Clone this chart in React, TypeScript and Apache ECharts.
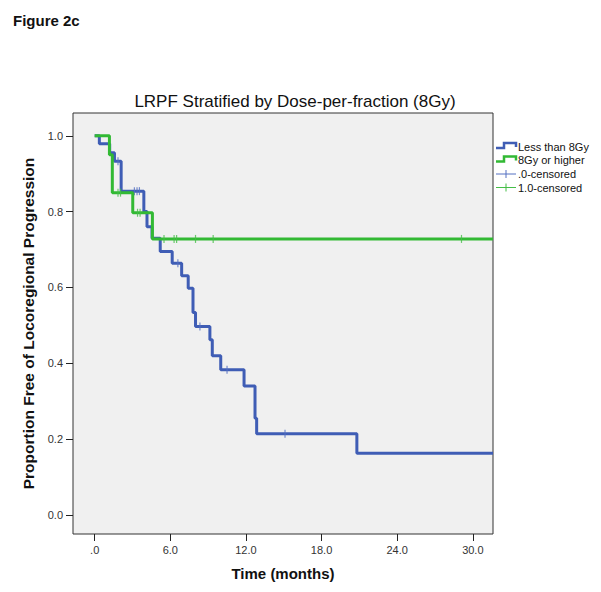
import React, { useEffect, useRef } from "react";
import * as echarts from "echarts";

// Kaplan-Meier step data (time in months, proportion free)
const blueTimes = [0, 0.37, 1.19, 1.57, 2.1, 3.9, 4.15, 4.55, 5.2, 6.15, 6.9, 7.42, 7.8, 8.0, 9.14, 9.33, 10.0, 11.85, 12.72, 12.85, 20.8, 31.6];
const blueSurv = [1.0, 0.979, 0.955, 0.933, 0.854, 0.8, 0.76, 0.73, 0.695, 0.664, 0.631, 0.598, 0.534, 0.497, 0.462, 0.42, 0.383, 0.34, 0.255, 0.214, 0.163, 0.163];
const greenTimes = [0, 1.17, 1.4, 3.02, 4.58, 31.6];
const greenSurv = [1.0, 0.95, 0.85, 0.797, 0.728, 0.728];

const blueCensT = [1.85, 3.15, 3.36, 3.55, 6.6, 8.35, 10.5, 15.1];
const blueCensS = [0.933, 0.854, 0.854, 0.854, 0.664, 0.497, 0.383, 0.214];
const greenCensT = [1.85, 2.05, 3.4, 3.6, 5.5, 6.3, 6.5, 8.0, 9.4, 29.1];
const greenCensS = [0.85, 0.85, 0.797, 0.797, 0.728, 0.728, 0.728, 0.728, 0.728, 0.728];

const xTicks = [0, 6, 12, 18, 24, 30];
const yTicks = [0, 0.2, 0.4, 0.6, 0.8, 1.0];

const seriesNames = ["Less than 8Gy", "8Gy or higher", ".0-censored", "1.0-censored"];

const BLUE = "#3F5DB5";
const GREEN = "#32B934";
const BLUE_L = "#5570C2";
const GREEN_L = "#45BE47";
const FONT = "'Liberation Sans', Arial, sans-serif";

const zip = (a: number[], b: number[]) => a.map((v, i) => [v, b[i]]);

export default function App() {
  const ref = useRef<HTMLDivElement>(null);
  useEffect(() => {
    if (!ref.current) return;
    const chart = echarts.init(ref.current, undefined, { renderer: "svg" });
    const legendY = [146.5, 160, 174, 187.5];
    const legendGraphics: any[] = [];
    legendGraphics.push({
      type: "polyline",
      shape: { points: [[496, 148], [504, 148], [504, 143], [516, 143], [516, 147]] },
      style: { stroke: BLUE, lineWidth: 2.5, fill: null },
    });
    legendGraphics.push({
      type: "polyline",
      shape: { points: [[496, 161.5], [504, 161.5], [504, 156.5], [516, 156.5], [516, 160.5]] },
      style: { stroke: GREEN, lineWidth: 2.5, fill: null },
    });
    legendGraphics.push({
      type: "line",
      shape: { x1: 496, y1: legendY[2], x2: 516, y2: legendY[2] },
      style: { stroke: BLUE_L, lineWidth: 1 },
    });
    legendGraphics.push({
      type: "line",
      shape: { x1: 506, y1: legendY[2] - 4, x2: 506, y2: legendY[2] + 4 },
      style: { stroke: BLUE_L, lineWidth: 1 },
    });
    legendGraphics.push({
      type: "line",
      shape: { x1: 496, y1: legendY[3], x2: 516, y2: legendY[3] },
      style: { stroke: GREEN_L, lineWidth: 1 },
    });
    legendGraphics.push({
      type: "line",
      shape: { x1: 506, y1: legendY[3] - 4, x2: 506, y2: legendY[3] + 4 },
      style: { stroke: GREEN_L, lineWidth: 1 },
    });
    seriesNames.forEach((n, i) => {
      legendGraphics.push({
        type: "text",
        x: 518,
        y: legendY[i],
        style: { text: n, fontSize: 11, fontFamily: FONT, fill: "#111", verticalAlign: "middle", align: "left" },
      });
    });

    const tickStyle = { color: "#222", width: 1 };
    chart.setOption({
      animation: false,
      backgroundColor: "#ffffff",
      title: [
        {
          text: "Figure 2c",
          left: 8,
          top: 8,
          textStyle: { fontSize: 15, fontWeight: "bold", fontFamily: FONT, color: "#111" },
        },
        {
          text: "LRPF Stratified by Dose-per-fraction (8Gy)",
          left: 290,
          textAlign: "center",
          top: 88,
          textStyle: { fontSize: 17, fontWeight: "normal", fontFamily: FONT, color: "#111" },
        },
      ],
      grid: {
        left: 73,
        top: 113,
        width: 420,
        height: 421,
        show: true,
        backgroundColor: "#F0F0F0",
        borderColor: "#333",
        borderWidth: 1,
      },
      xAxis: {
        type: "value",
        min: -1.72,
        max: 31.6,
        name: "Time (months)",
        nameLocation: "middle",
        nameGap: 32,
        nameTextStyle: { fontSize: 15, fontWeight: "bold", fontFamily: FONT, color: "#111" },
        axisLine: { show: false, onZero: false },
        splitLine: { show: false },
        axisTick: { show: true, inside: false, length: 7, lineStyle: tickStyle, customValues: xTicks },
        axisLabel: {
          customValues: xTicks,
          margin: 10,
          fontSize: 11,
          fontFamily: FONT,
          color: "#333",
          formatter: (v: number) => (v === 0 ? ".0" : v.toFixed(1)),
        },
      },
      yAxis: {
        type: "value",
        min: -0.05,
        max: 1.06,
        name: "Proportion Free of Locoregional Progression",
        nameLocation: "middle",
        nameGap: 32,
        nameTextStyle: { fontSize: 15.5, fontWeight: "bold", fontFamily: FONT, color: "#111" },
        axisLine: { show: false, onZero: false },
        splitLine: { show: false },
        axisTick: { show: true, inside: false, length: 7, lineStyle: tickStyle, customValues: yTicks },
        axisLabel: {
          customValues: yTicks,
          margin: 10,
          fontSize: 11,
          fontFamily: FONT,
          color: "#333",
          formatter: (v: number) => v.toFixed(1),
        },
      },
      graphic: legendGraphics,
      series: [
        {
          name: seriesNames[0],
          type: "line",
          step: "end",
          data: zip(blueTimes, blueSurv),
          showSymbol: false,
          lineStyle: { color: BLUE, width: 3 },
          z: 2,
        },
        {
          name: seriesNames[2],
          type: "scatter",
          data: zip(blueCensT, blueCensS),
          symbol: "rect",
          symbolSize: [1.2, 8],
          itemStyle: { color: BLUE_L },
          z: 3,
        },
        {
          name: seriesNames[1],
          type: "line",
          step: "end",
          data: zip(greenTimes, greenSurv),
          showSymbol: false,
          lineStyle: { color: GREEN, width: 3 },
          z: 4,
        },
        {
          name: seriesNames[3],
          type: "scatter",
          data: zip(greenCensT, greenCensS),
          symbol: "rect",
          symbolSize: [1.2, 8],
          itemStyle: { color: GREEN_L },
          z: 5,
        },
      ],
    });
    return () => chart.dispose();
  }, []);
  return (
    <div
      ref={ref}
      style={{ position: "fixed", left: 0, top: 0, width: 601, height: 592, background: "#fff" }}
    />
  );
}
